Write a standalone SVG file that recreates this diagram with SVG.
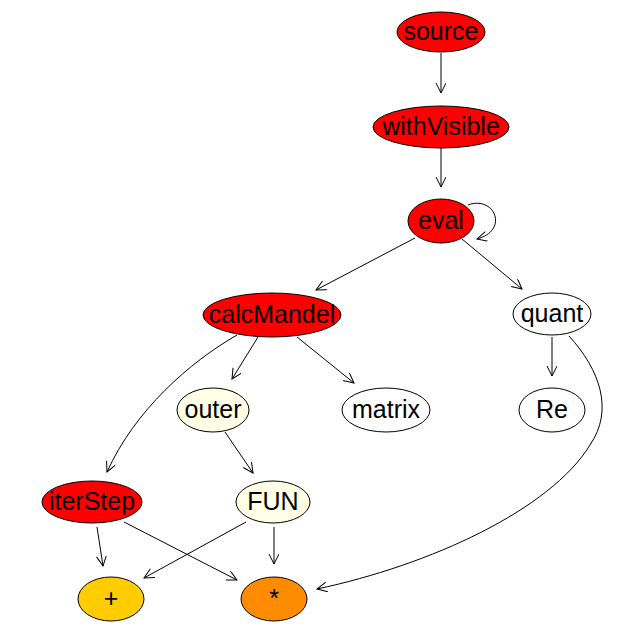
<svg xmlns="http://www.w3.org/2000/svg" width="629" height="631" viewBox="0 0 629 631">
<defs>
<style>
.n ellipse{stroke:#000;stroke-width:1}
.n text{font-family:"Liberation Sans",Arial,sans-serif;font-size:25px;text-anchor:middle;fill:#000}
.red{fill:#FF0000}
.cream{fill:#FFFFE6}
.white{fill:#FFFFFF}
.e path{fill:none;stroke:#000;stroke-width:1;marker-end:url(#arr)}
</style>
<marker id="arr" markerUnits="userSpaceOnUse" markerWidth="14" markerHeight="12" refX="11" refY="5" orient="auto" viewBox="0 0 14 12">
<path d="M1,0 L11,5 L1,10" fill="none" stroke="#000" stroke-width="1"/>
</marker>
</defs>
<rect width="629" height="631" fill="#FFFFFF"/>
<g id="edges" class="e">
<path d="M441,53 L441,93"/>
<path d="M441,148 L441,187"/>
<path d="M468,205 C494,195 510,230 477,239"/>
<path d="M415,238 L316,290"/>
<path d="M462,239 L522,289"/>
<path d="M258,337 L232,379"/>
<path d="M297,337 L354,383"/>
<path d="M237,335 C190,362 135,410 107,472"/>
<path d="M552,337 L552,376"/>
<path d="M569,336 C600,370 614,410 590,445 C550,510 430,565 317,589"/>
<path d="M225,432 L253,473"/>
<path d="M97,527 L103,566"/>
<path d="M124,522 L237,580"/>
<path d="M246,522 L144,578"/>
<path d="M274,527 L274,564"/>
</g>
<g id="source" class="n"><ellipse class="red" cx="441" cy="32" rx="44" ry="20"/><text x="441" y="40">source</text></g>
<g id="withVisible" class="n"><ellipse class="red" cx="441" cy="127" rx="68" ry="21"/><text x="441" y="135">withVisible</text></g>
<g id="eval" class="n"><ellipse class="red" cx="441" cy="221" rx="33" ry="22"/><text x="441" y="229">eval</text></g>
<g id="calcMandel" class="n"><ellipse class="red" cx="272" cy="315" rx="69" ry="22"/><text x="272" y="323">calcMandel</text></g>
<g id="quant" class="n"><ellipse class="white" cx="552" cy="314" rx="39" ry="21"/><text x="552" y="322">quant</text></g>
<g id="outer" class="n"><ellipse class="cream" cx="213" cy="410" rx="36" ry="22"/><text x="213" y="418">outer</text></g>
<g id="matrix" class="n"><ellipse class="white" cx="386" cy="410" rx="44" ry="22"/><text x="386" y="418">matrix</text></g>
<g id="Re" class="n"><ellipse class="white" cx="552" cy="410" rx="33" ry="22"/><text x="552" y="418">Re</text></g>
<g id="iterStep" class="n"><ellipse class="red" cx="92" cy="502" rx="50" ry="21"/><text x="92" y="510">iterStep</text></g>
<g id="FUN" class="n"><ellipse class="cream" cx="273" cy="502" rx="37" ry="21"/><text x="273" y="510">FUN</text></g>
<g id="plus" class="n"><ellipse style="fill:#FFCC00" cx="111" cy="599" rx="33" ry="22"/><text x="111" y="607">+</text></g>
<g id="times" class="n"><ellipse style="fill:#FF8C00" cx="274" cy="599" rx="33" ry="22"/><text x="274" y="607">*</text></g>
</svg>
